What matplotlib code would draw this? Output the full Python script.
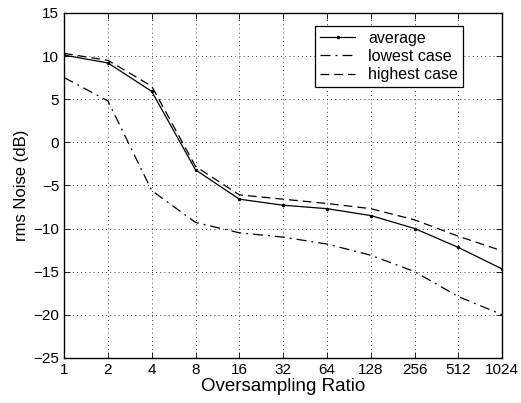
import matplotlib
matplotlib.use('Agg')
import matplotlib.pyplot as plt

ratio = [1, 2, 4, 8, 16, 32, 64, 128, 256, 512, 1024]
tick_labels = ['1', '2', '4', '8', '16', '32', '64', '128', '256', '512', '1024']
avg_noise = [10.1, 9.2, 5.9, -3.2, -6.6, -7.3, -7.7, -8.5, -10.0, -12.2, -14.7]
low_noise = [7.5, 4.8, -5.6, -9.3, -10.5, -11.0, -11.8, -13.1, -15.0, -17.9, -20.0]
high_noise = [10.3, 9.5, 6.5, -2.8, -6.1, -6.6, -7.1, -7.7, -9.0, -10.9, -12.6]

plt.rcParams['font.family'] = ['Liberation Sans', 'DejaVu Sans']

fig = plt.figure(figsize=(5.21, 4.03), dpi=100)
ax = fig.add_axes([0.123, 0.112, 0.841, 0.856])

ax.plot(ratio, avg_noise, 'k-', marker='.', markersize=3, lw=0.9, label='average')
ax.plot(ratio, low_noise, 'k-.', lw=0.9, dashes=(8, 4, 1.5, 4), label='lowest case')
ax.plot(ratio, high_noise, 'k--', lw=0.9, dashes=(7, 4), label='highest case')

ax.set_xscale('log', base=2)
ax.set_xlim(1, 1024)
ax.set_ylim(-25, 15)
ax.set_xticks(ratio)
ax.set_xticklabels(tick_labels)
ax.minorticks_off()
ax.set_yticks(range(-25, 16, 5))
ax.set_yticklabels([str(v).replace('-', '\u2212') for v in range(-25, 16, 5)])
ax.tick_params(direction='in', top=True, right=True, labelsize=11, length=4, width=0.6)
ax.grid(True, color='k', linestyle=(0, (1, 4)), lw=0.6)
for s in ax.spines.values():
    s.set_linewidth(1.0)

ax.set_xlabel('Oversampling Ratio', fontsize=13.5, labelpad=1)
ax.set_ylabel('rms Noise (dB)', fontsize=12, labelpad=3)

leg = ax.legend(loc='upper right', bbox_to_anchor=(0.91, 0.962), fontsize=11.5,
                fancybox=False, framealpha=1, edgecolor='k', handlelength=2.2,
                borderpad=0.3, labelspacing=0.2, handletextpad=0.8, borderaxespad=0)
leg.get_frame().set_linewidth(0.9)

fig.savefig('out.png', dpi=100)
